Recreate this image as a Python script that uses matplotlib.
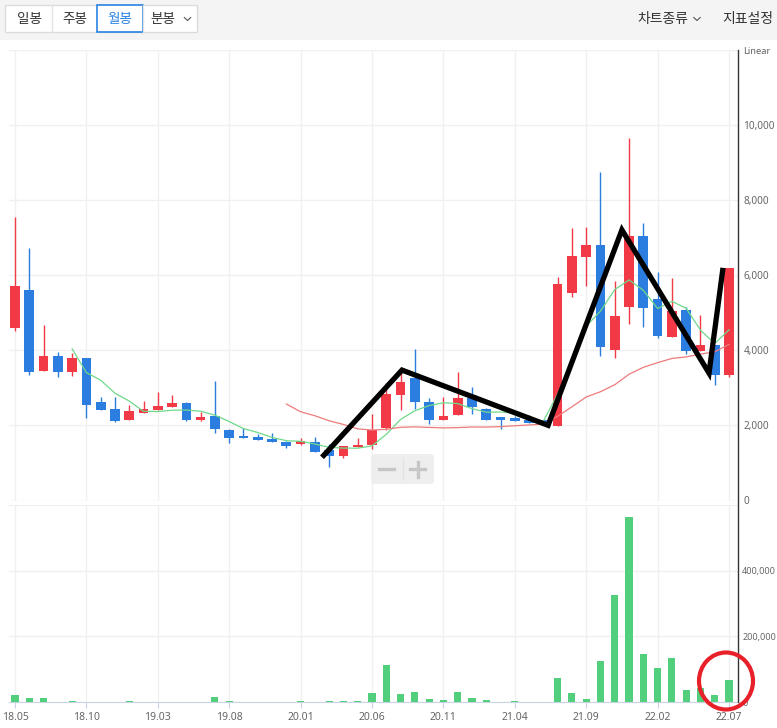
import numpy as np
import pandas as pd
import matplotlib
matplotlib.use("Agg")
import matplotlib.pyplot as plt
from matplotlib.patches import Rectangle, FancyBboxPatch, Ellipse
from matplotlib.lines import Line2D

plt.rcParams['font.family'] = ['Noto Sans CJK KR', 'DejaVu Sans']

# ---- monthly data (2018.05 - 2022.07) ----
months = pd.period_range('2018-05', '2022-07', freq='M')
month_labels = [p.strftime('%y.%m') for p in months]

opens = [4595, 5600, 3449, 3840, 3422, 3787, 2613, 2444, 2142, 2329,
         2409, 2489, 2587, 2142, 2240, 1876, 1680, 1680, 1600, 1565,
         1493, 1547, 1351, 1182, 1430, 1485, 1938, 2809, 3253, 2631,
         2133, 2276, 2738, 2444, 2180, 2160, 2115, 2151, 1973, 5512,
         6489, 6800, 4000, 5155, 7040, 5351, 4338, 5067, 3982, 4133,
         3351]
highs = [7555, 6720, 4667, 3947, 3920, 3787, 2747, 2747, 2533, 2640,
         2880, 2800, 2613, 2347, 3173, 1902, 1938, 1760, 1804, 1580,
         1653, 1698, 1511, 1458, 1671, 2293, 3128, 3467, 4018, 2738,
         2756, 3431, 3022, 2470, 2200, 2240, 2267, 2151, 5955, 7253,
         7289, 8747, 5849, 9653, 7395, 6080, 5929, 5155, 4933, 4133,
         6195]
lows = [4515, 3351, 3449, 3289, 3315, 2196, 2409, 2089, 2142, 2329,
        2409, 2489, 2116, 2116, 1795, 1529, 1650, 1620, 1565, 1405,
        1480, 1289, 889, 1138, 1430, 1378, 1884, 2400, 2427, 2044,
        2133, 2276, 2293, 2151, 1911, 2124, 2071, 2044, 1973, 5405,
        5707, 3840, 3787, 4693, 4622, 4311, 4338, 3911, 3982, 3084,
        3289]
closes = [5707, 3422, 3840, 3422, 3787, 2542, 2409, 2116, 2373, 2427,
          2507, 2587, 2142, 2213, 1902, 1662, 1650, 1620, 1565, 1458,
          1582, 1289, 1182, 1458, 1450, 1884, 2827, 3164, 2622, 2133,
          2258, 2720, 2489, 2151, 2150, 2124, 2071, 2044, 5760, 6507,
          6800, 4089, 4907, 7040, 5129, 4382, 5040, 3982, 4133, 3351,
          6195]
volumes = [21300, 12200, 12200, 600, 3000, 600, 600, 600, 3000, 600,
           600, 600, 600, 600, 15200, 3000, 600, 600, 600, 600,
           3000, 600, 3000, 3000, 3000, 28300, 113400, 24300, 30400, 9100,
           6100, 30400, 12200, 6100, 600, 3000, 600, 600, 73000, 28300,
           9100, 124600, 325200, 562300, 145900, 103300, 133700, 36500, 43500, 21300,
           66900]

# hand-drawn zigzag over the price panel (month index, price)
zigzag_month = [21.5, 27.1, 37.33, 42.5, 48.6, 49.58]
zigzag_price = [1150, 3470, 2000, 7200, 3390, 6190]

price_ticks = [0, 2000, 4000, 6000, 8000, 10000, 12000]
volume_ticks = [0, 200000, 400000, 600000]

# ---- styling ----
UP = '#f23a47'
DOWN = '#2b7de0'
VOL = '#52cf7c'
MA5_C = '#6fd98a'
MA20_C = '#ee7b7b'
GRID = '#f0f0f0'
LABEL = '#666666'

W, H = 777, 728
fig = plt.figure(figsize=(W / 100, H / 100), dpi=100)
fig.patch.set_facecolor('white')


def fx(x):
    return x / W


def fy(y):
    return 1 - y / H


x = np.arange(len(closes))
o = np.array(opens, float)
c = np.array(closes, float)
hi = np.array(highs, float)
lo = np.array(lows, float)
colors = [UP if cc >= oo else DOWN for oo, cc in zip(o, c)]

xmin, xmax = -0.42, 50.63
ax_p = fig.add_axes([fx(9), fy(500.5), (738 - 9) / W, (500.5 - 49.5) / H])
ax_v = fig.add_axes([fx(9), fy(702), (738 - 9) / W, (702 - 505) / H])

for ax in (ax_p, ax_v):
    ax.set_xlim(xmin, xmax)
    ax.set_xticks(range(0, len(closes), 5))
    ax.grid(True, color=GRID, lw=1)
    ax.set_axisbelow(True)
    for s in ('top', 'left', 'right', 'bottom'):
        ax.spines[s].set_visible(False)
    ax.yaxis.tick_right()
    ax.tick_params(axis='y', length=0, pad=4, labelsize=7.2, labelcolor=LABEL)

# ---- price panel ----
ax_p.set_ylim(0, 12000)
ax_p.set_yticks(price_ticks)
ax_p.set_yticklabels([f'{v:,}' for v in price_ticks[:-1]] + [''],
                     family='Noto Sans')
ax_p.tick_params(axis='x', length=0, labelbottom=False)

ax_p.vlines(x, lo, hi, colors=colors, lw=1.0, zorder=2)
body_h = np.maximum(np.abs(c - o), 60)
ax_p.bar(x, body_h, bottom=np.minimum(o, c), width=0.68, color=colors,
         lw=0, zorder=3)

ma5 = pd.Series(c).rolling(5).mean()
ma20 = pd.Series(c).rolling(20).mean()
ax_p.plot(x, ma5, color=MA5_C, lw=0.9, zorder=4)
ax_p.plot(x, ma20, color=MA20_C, lw=0.9, zorder=4)

ax_p.plot(zigzag_month, zigzag_price, color='black', lw=3.8,
          solid_joinstyle='miter', solid_capstyle='butt', zorder=6, clip_on=False)

# ---- volume panel ----
ax_v.set_ylim(0, 600000)
ax_v.set_yticks(volume_ticks)
ax_v.set_yticklabels([f'{v:,}' for v in volume_ticks[:-1]] + [''],
                     family='Noto Sans')
ax_v.tick_params(axis='y', pad=3, labelsize=6.5)
ax_v.bar(x, volumes, width=0.5, color=VOL, lw=0, zorder=3)
ax_v.spines['bottom'].set_visible(True)
ax_v.spines['bottom'].set_color('#c9d3e6')
ax_v.set_xticklabels(month_labels[::5], family='Noto Sans')
ax_v.tick_params(axis='x', length=4, color='#c9d3e6', labelsize=7.5,
                 labelcolor=LABEL, pad=3)

# right axis line shared by both panels
fig.add_artist(Line2D([fx(738), fx(738)], [fy(49.5), fy(702)],
                      transform=fig.transFigure, color='#333333', lw=1))
fig.text(fx(743), fy(52), 'Linear', fontsize=6.8, color=LABEL,
         family='Noto Sans', va='center', ha='left')

# ---- header toolbar ----
fig.add_artist(Rectangle((0, fy(40)), 1, 40 / H, transform=fig.transFigure,
                         facecolor='#f4f4f4', edgecolor='none', zorder=0))
fig.add_artist(Rectangle((fx(5), fy(32)), 192 / W, 27 / H,
                         transform=fig.transFigure, facecolor='white',
                         edgecolor='#dcdcdc', lw=1))
for xd in (52, 143):
    fig.add_artist(Line2D([fx(xd), fx(xd)], [fy(5), fy(32)],
                          transform=fig.transFigure, color='#e4e4e4', lw=1))
fig.add_artist(Rectangle((fx(97), fy(32)), 46 / W, 27 / H,
                         transform=fig.transFigure, facecolor='white',
                         edgecolor='#2a82e4', lw=1.2))

tabs = ['일봉', '주봉', '월봉', '분봉']
tab_x = [29, 74.5, 120, 163]
for t, tx in zip(tabs, tab_x):
    fig.text(fx(tx), fy(18.5), t, fontsize=9.8,
             color='#2a82e4' if t == '월봉' else '#333333',
             ha='center', va='center')


def chevron(cx, cy, w=3.2, h=3):
    fig.add_artist(Line2D([fx(cx - w), fx(cx), fx(cx + w)],
                          [fy(cy - h / 2), fy(cy + h / 2), fy(cy - h / 2)],
                          transform=fig.transFigure, color='#555555', lw=0.8))


chevron(187.5, 19)
fig.text(fx(637), fy(18.5), '차트종류', fontsize=10, color='#333333',
         ha='left', va='center')
chevron(697, 19)
fig.text(fx(722), fy(18.5), '지표설정', fontsize=10, color='#333333',
         ha='left', va='center')

# ---- zoom control ----
fig.add_artist(FancyBboxPatch((fx(371), fy(484)), 63 / W, 30 / H,
                              boxstyle='round,pad=0,rounding_size=0.005',
                              transform=fig.transFigure, facecolor='#eeeeee',
                              edgecolor='none', zorder=5))
fig.add_artist(Line2D([fx(403), fx(403)], [fy(459), fy(479)],
                      transform=fig.transFigure, color='#e2e2e2', lw=1, zorder=6))
fig.add_artist(Line2D([fx(379), fx(394)], [fy(469), fy(469)],
                      transform=fig.transFigure, color='#c6c6c6', lw=2.4, zorder=6))
fig.add_artist(Line2D([fx(410), fx(425)], [fy(469), fy(469)],
                      transform=fig.transFigure, color='#c6c6c6', lw=2.4, zorder=6))
fig.add_artist(Line2D([fx(417.5), fx(417.5)], [fy(461.5), fy(476.5)],
                      transform=fig.transFigure, color='#c6c6c6', lw=2.4, zorder=6))

# ---- red circle highlighting the latest volume ----
fig.add_artist(Ellipse((fx(726), fy(681)), 54 / W, 57 / H,
                       transform=fig.transFigure, fill=False,
                       edgecolor='#e8202a', lw=3, zorder=7))

fig.savefig('out.png', dpi=100)
